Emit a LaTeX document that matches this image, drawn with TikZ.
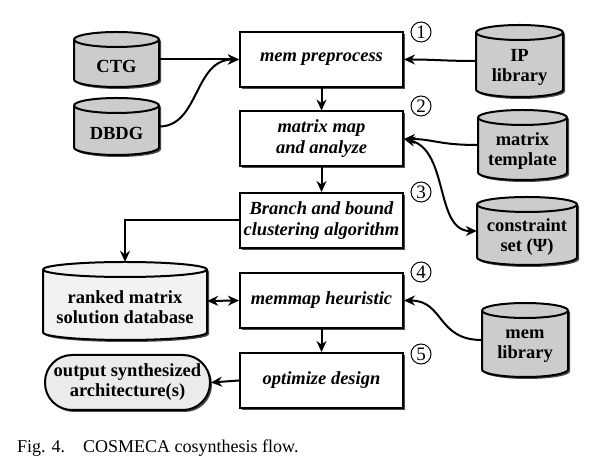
\documentclass[tikz,border=0pt]{standalone}
\usepackage{fontspec}
\setmainfont{Liberation Serif}
\usetikzlibrary{arrows.meta,shadows}
\newcommand{\mycyl}[8]{%
  \pgfmathsetmacro{\cxa}{#2-#4/2}%
  \pgfmathsetmacro{\cxb}{#2+#4/2}%
  \pgfmathsetmacro{\cya}{#3+#5/2-#8}%
  \pgfmathsetmacro{\cyb}{#3-#5/2+#8}%
  \pgfmathsetmacro{\crx}{#4/2}%
  \draw[line width=2pt,fill=#6,shad] (\cxa,\cya) -- (\cxa,\cyb)
     arc[start angle=180,end angle=360,x radius=\crx pt,y radius=#8pt]
     -- (\cxb,\cya)
     arc[start angle=0,end angle=180,x radius=\crx pt,y radius=#8pt] -- cycle;
  \draw[line width=2pt] (\cxa,\cya)
     arc[start angle=180,end angle=360,x radius=\crx pt,y radius=#8pt];
  \node[minimum width=#4pt,minimum height=#5pt,inner sep=0pt] (#1) at (#2,#3) {};
  \node[lbl] at (#2,#3-6.5) {#7};%
}
\begin{document}
\begin{tikzpicture}[x=1pt,y=1pt,
  shad/.style={drop shadow={shadow xshift=2pt,shadow yshift=-2pt,fill=black!70,opacity=1}},
  box/.style={draw,line width=2pt,fill=white,minimum width=163pt,minimum height=55pt,
    inner sep=2pt,align=center,font=\fontsize{18.5}{21}\selectfont\bfseries\itshape,shad},
  lbl/.style={align=center,font=\fontsize{18.5}{20}\selectfont\bfseries},
  num/.style={circle,draw,line width=1pt,minimum size=20pt,inner sep=0pt,
    font=\fontsize{19}{19}\selectfont},
  arr/.style={line width=2pt,-{Stealth[length=11pt,width=10pt]}},
  darr/.style={line width=2pt,{Stealth[length=11pt,width=10pt]}-{Stealth[length=11pt,width=10pt]}},
  captext/.style={anchor=base west,inner sep=0pt,font=\fontsize{18}{18}\selectfont}
]
\fill[white] (0,0) rectangle (596,470);
\useasboundingbox (0,0) rectangle (596,470);

% process boxes
\node[box] (pre) at (321.5,410.5) {mem preprocess};
\node[box] (map) at (321.5,331) {matrix map\\and analyze};
\node[box] (bb)  at (321.5,249.5) {Branch and bound\\clustering algorithm};
\node[box] (mm)  at (321.5,169.5) {memmap heuristic};
\node[box] (opt) at (321.5,89.5) {optimize design};

% step numbers
\node[num] (n1) at (421,438) {1};
\node[num] (n2) at (421,364) {2};
\node[num] (n3) at (421,278) {3};
\node[num] (n4) at (421,198) {4};
\node[num] (n5) at (421,116) {5};

% data stores
\mycyl{ctg}{116.5}{410.5}{85}{55}{black!20}{CTG}{7.5}
\mycyl{dbdg}{116.5}{343.5}{85}{57}{black!20}{DBDG}{7.5}
\mycyl{ip}{519.5}{409}{87}{72}{black!20}{IP\\library}{7.5}
\mycyl{mt}{522.5}{325}{89}{70}{black!20}{matrix\\template}{7.5}
\mycyl{cs}{527}{239}{100}{68}{black!20}{constraint\\set (Ψ)}{7.5}
\mycyl{ml}{525}{130}{86}{74}{black!20}{mem\\library}{7.5}
\mycyl{rk}{125}{169}{164}{78}{black!5}{ranked matrix\\solution database}{7.5}

\node[draw,line width=2pt,fill=black!8,rounded corners=27pt,minimum width=165pt,
  minimum height=55pt,inner sep=1pt,shad,lbl] (out) at (127.5,87.5)
  {output synthesized\\architecture(s)};

% connectors
\draw[arr] (ctg.east) -- (pre.west);
\draw[arr] (dbdg.east) .. controls +(40,0) and +(-45,0) .. (pre.west);
\draw[arr] (ip.west) .. controls +(-30,0) and +(30,0) .. (pre.east);
\draw[arr] (pre.south) -- (map.north);
\draw[arr] (mt.west) .. controls +(-40,0) and +(30,0) .. (map.east);
\draw[darr] (map.east) .. controls +(45,-11) and +(-42,0) .. (cs.west);
\draw[arr] (map.south) -- (bb.north);
\draw[arr] (bb.west) -| (rk.north);
\draw[darr] (rk.east) -- (mm.west);
\draw[arr] (ml.west) .. controls +(-45,0) and +(40,0) .. (mm.east);
\draw[arr] (mm.south) -- (opt.north);
\draw[arr] (opt.west) -- (out.east);

% caption
\node[captext] (c1) at (17,17) {Fig. 4.};
\node[captext] (c2) at (83,17) {COSMECA cosynthesis flow.};
\end{tikzpicture}
\end{document}
